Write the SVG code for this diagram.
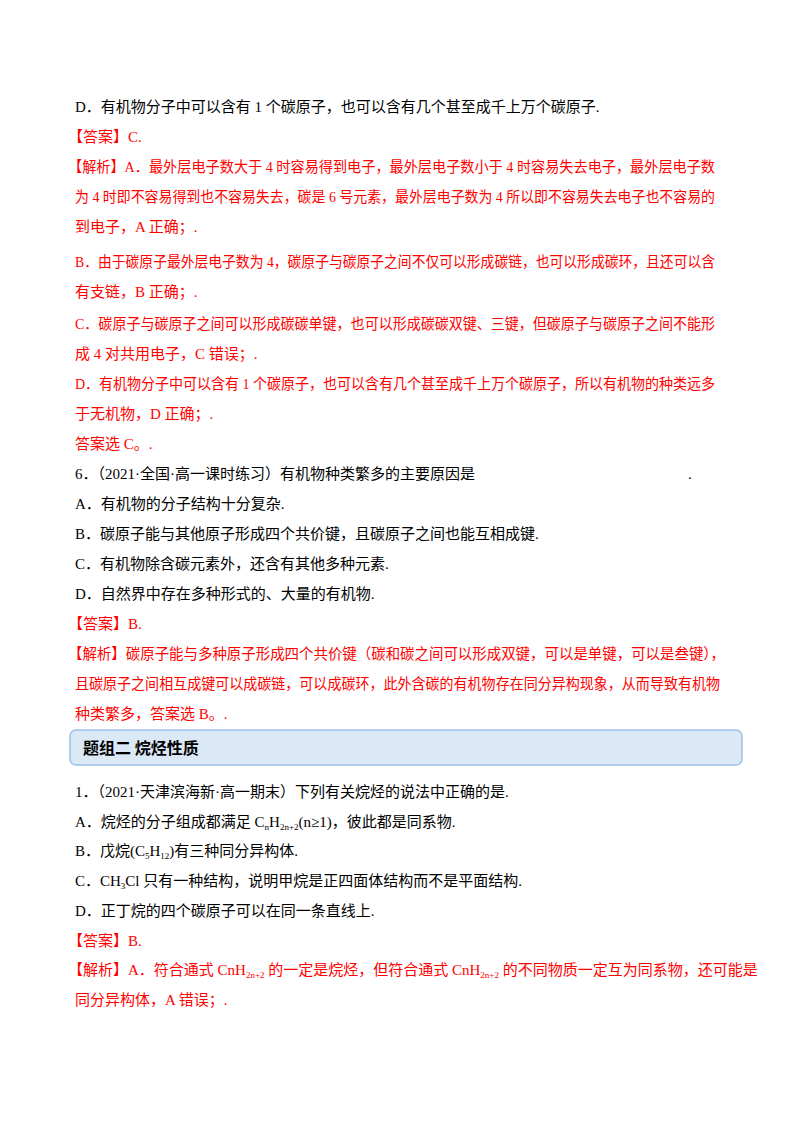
<svg xmlns="http://www.w3.org/2000/svg" width="800" height="1132" viewBox="0 0 800 1132">
<style>
text{font-family:"Liberation Serif","Noto Sans CJK SC",serif;font-size:15px;fill:#000}
.r{fill:#ff0000}
.h{font-family:"Noto Sans CJK SC",sans-serif;font-weight:bold;font-size:16px}
</style>
<rect width="800" height="1132" fill="#fff"/>
<text x="75" y="112">D．有机物分子中可以含有 1 个碳原子，也可以含有几个甚至成千上万个碳原子.</text>
<text x="68" y="142" class="r">【答案】C.</text>
<text x="68" y="172" class="r" textLength="647" lengthAdjust="spacingAndGlyphs">【解析】A．最外层电子数大于 4 时容易得到电子，最外层电子数小于 4 时容易失去电子，最外层电子数</text>
<text x="75" y="202" class="r" textLength="640" lengthAdjust="spacingAndGlyphs">为 4 时即不容易得到也不容易失去，碳是 6 号元素，最外层电子数为 4 所以即不容易失去电子也不容易的</text>
<text x="75" y="232" class="r">到电子，A 正确；.</text>
<text x="75" y="267" class="r" textLength="640" lengthAdjust="spacingAndGlyphs">B．由于碳原子最外层电子数为 4，碳原子与碳原子之间不仅可以形成碳链，也可以形成碳环，且还可以含</text>
<text x="75" y="297" class="r">有支链，B 正确；.</text>
<text x="75" y="329" class="r" textLength="640" lengthAdjust="spacingAndGlyphs">C．碳原子与碳原子之间可以形成碳碳单键，也可以形成碳碳双键、三键，但碳原子与碳原子之间不能形</text>
<text x="75" y="359" class="r">成 4 对共用电子，C 错误；.</text>
<text x="75" y="389" class="r" textLength="640" lengthAdjust="spacingAndGlyphs">D．有机物分子中可以含有 1 个碳原子，也可以含有几个甚至成千上万个碳原子，所以有机物的种类远多</text>
<text x="75" y="419" class="r">于无机物，D 正确；.</text>
<text x="75" y="449" class="r">答案选 C。.</text>
<text x="75" y="479">6．（2021·全国·高一课时练习）有机物种类繁多的主要原因是</text>
<text x="688" y="479">.</text>
<text x="75" y="509">A．有机物的分子结构十分复杂.</text>
<text x="75" y="539">B．碳原子能与其他原子形成四个共价键，且碳原子之间也能互相成键.</text>
<text x="75" y="569">C．有机物除含碳元素外，还含有其他多种元素.</text>
<text x="75" y="599">D．自然界中存在多种形式的、大量的有机物.</text>
<text x="68" y="629" class="r">【答案】B.</text>
<text x="68" y="659" class="r" textLength="657" lengthAdjust="spacingAndGlyphs">【解析】碳原子能与多种原子形成四个共价键（碳和碳之间可以形成双键，可以是单键，可以是叁键），</text>
<text x="75" y="689" class="r" textLength="645" lengthAdjust="spacingAndGlyphs">且碳原子之间相互成键可以成碳链，可以成碳环，此外含碳的有机物存在同分异构现象，从而导致有机物</text>
<text x="75" y="719" class="r">种类繁多，答案选 B。.</text>
<g id="section-header">
<rect x="70" y="730" width="672" height="35" rx="6" fill="#dbe9f7" stroke="#9cc0e6" stroke-width="1.5"/>
<text x="83" y="754" class="h">题组二  烷烃性质</text>
</g>
<text x="75" y="797">1．（2021·天津滨海新·高一期末）下列有关烷烃的说法中正确的是.</text>
<text x="75" y="827">A．烷烃的分子组成都满足 C<tspan font-size="9" dy="3">n</tspan><tspan dy="-3">H</tspan><tspan font-size="9" dy="3">2n+2</tspan><tspan dy="-3">(n≥1)，彼此都是同系物.</tspan></text>
<text x="75" y="856">B．戊烷(C<tspan font-size="9" dy="3">5</tspan><tspan dy="-3">H</tspan><tspan font-size="9" dy="3">12</tspan><tspan dy="-3">)有三种同分异构体.</tspan></text>
<text x="75" y="886">C．CH<tspan font-size="9" dy="3">3</tspan><tspan dy="-3">Cl 只有一种结构，说明甲烷是正四面体结构而不是平面结构.</tspan></text>
<text x="75" y="916">D．正丁烷的四个碳原子可以在同一条直线上.</text>
<text x="68" y="946" class="r">【答案】B.</text>
<text x="68" y="975" class="r">【解析】A．符合通式 CnH<tspan font-size="9" dy="3">2n+2</tspan><tspan dy="-3"> 的一定是烷烃，但符合通式 CnH</tspan><tspan font-size="9" dy="3">2n+2</tspan><tspan dy="-3"> 的不同物质一定互为同系物，还可能是</tspan></text>
<text x="75" y="1005" class="r">同分异构体，A 错误；.</text>
</svg>
